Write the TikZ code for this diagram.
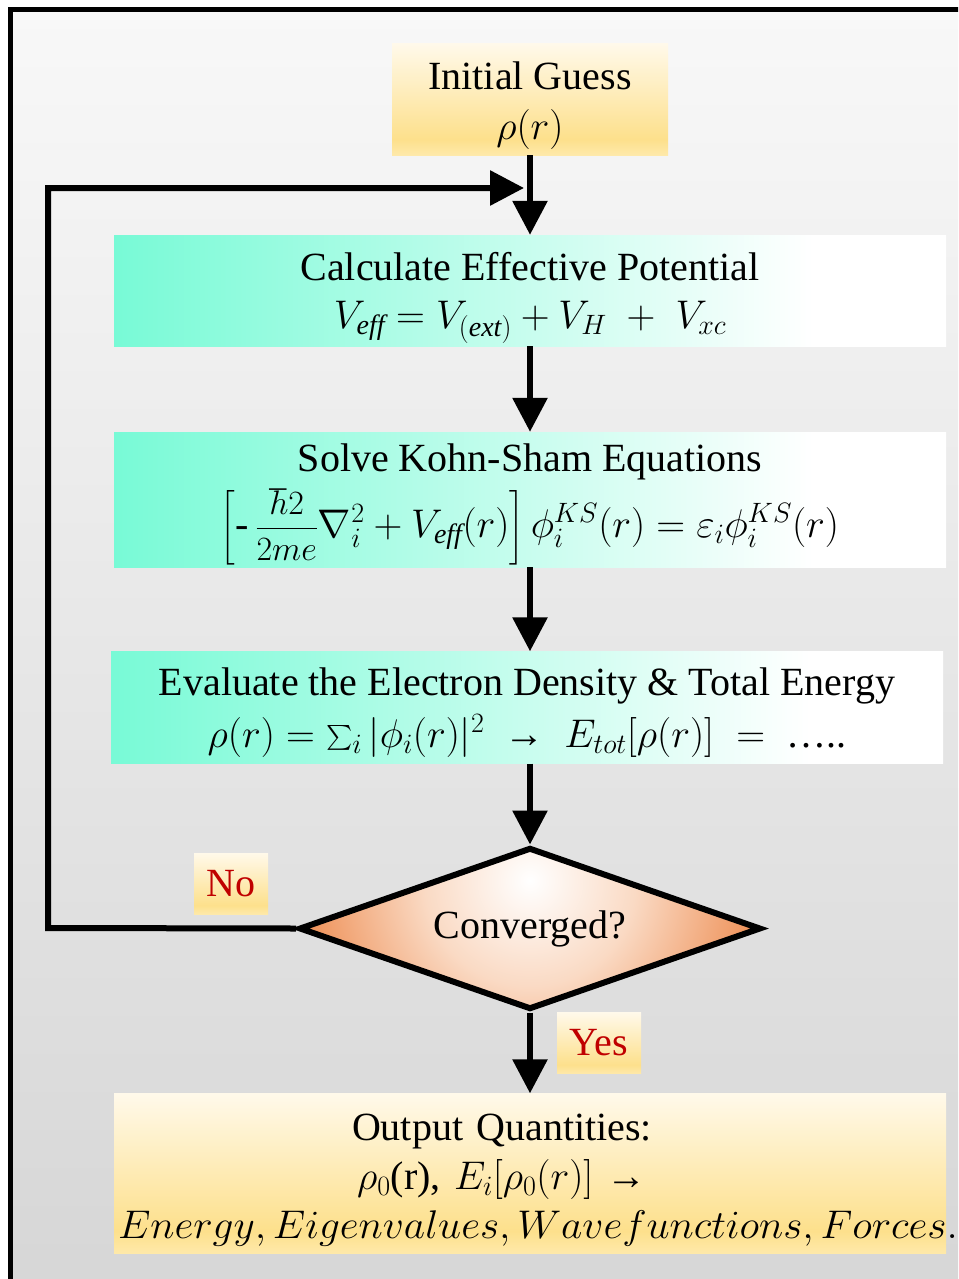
\RequirePackage{fix-cm}
\documentclass[tikz,border=0pt]{standalone}
\usepackage{amsmath}
\usepackage{graphicx}
\usepackage{fontspec}
\setmainfont{Liberation Serif}
\usetikzlibrary{shapes.geometric,arrows.meta}

\definecolor{aqualeft}{RGB}{120,250,214}
\definecolor{goldtop}{RGB}{255,249,234}
\definecolor{goldmid}{RGB}{253,224,140}
\definecolor{goldbot}{RGB}{254,233,170}
\definecolor{peach}{RGB}{250,218,196}
\definecolor{orangeedge}{RGB}{237,138,78}
\definecolor{nored}{RGB}{192,0,0}
\definecolor{bgtop}{RGB}{248,248,248}
\definecolor{bgbot}{RGB}{214,214,214}

% path box is mapped to 25bp..75bp of a shading
\pgfdeclarehorizontalshading{aquafill}{100bp}{color(0bp)=(aqualeft); color(25bp)=(aqualeft); color(67bp)=(white); color(100bp)=(white)}
\pgfdeclareverticalshading{goldfill}{100bp}{color(0bp)=(goldbot); color(25bp)=(goldbot); color(32bp)=(goldmid); color(75bp)=(goldtop); color(100bp)=(goldtop)}
\pgfdeclareradialshading{convfill}{\pgfpointorigin}{color(0bp)=(white); color(11bp)=(peach); color(25bp)=(orangeedge); color(50bp)=(orangeedge)}

\begin{document}
\begin{tikzpicture}
[x=1pt, y=1pt, node distance=208pt, font=\fontsize{40}{52}\selectfont]
\tikzstyle{flow}=[line width=6pt, -{Triangle[length=34pt, width=34pt]}]
\tikzstyle{aquabox}=[rectangle, shade, shading=aquafill, minimum width=832pt, minimum height=111pt, inner sep=0pt, align=center]
\tikzstyle{goldbox}=[rectangle, shade, shading=goldfill, inner sep=0pt, align=center]
\tikzstyle{tagbox}=[goldbox, text=nored, minimum height=61pt]
\tikzstyle{decision}=[diamond, aspect=2.85, draw, line width=6pt, minimum width=462pt, minimum height=162pt, inner sep=0pt,
  path picture={\shade[shading=convfill] ([yshift=48pt]path picture bounding box.center) circle (240pt);}]

\useasboundingbox (0,0) rectangle (958,-1279);
\clip (0,0) rectangle (958,-1279);
\fill[white] (0,0) rectangle (958,-1279);
\shadedraw[top color=bgtop, bottom color=bgbot, line width=5pt] (10.5,-10) rectangle (990,-1300);

% the struts on the first lines push the texts down
\node[goldbox, minimum width=276pt, minimum height=111pt] (init) at (530,-99.5) {\rule{0pt}{39pt}Initial Guess\\[-2pt]$\rho(r)$};
\node[aquabox] (calc) [below of=init, yshift=17pt] {\rule{0pt}{43pt}Calculate Effective Potential\\[-4pt]$V_{\mathit{eff}} = V_{(\mathit{ext})} + V_H \;+\; V_{xc}$};
\node[aquabox, minimum height=135pt] (solve) [below of=calc, yshift=-1pt] {\rule{0pt}{37pt}Solve Kohn-Sham Equations\\[8pt]$\Big[\text{-}\,\text{\fontsize{34}{40}\selectfont$\dfrac{\hbar 2}{2me}$}\nabla_i^2 + V_{\mathit{eff}}(r)\Big]\,\phi_i^{KS}(r) = \varepsilon_i\phi_i^{KS}(r)$};
\node[aquabox, minimum height=112pt, xshift=-3pt] (eval) [below of=solve] {\rule{0pt}{38pt}Evaluate the Electron Density \& Total Energy\\$\rho(r) = \sum_i|\phi_i(r)|^2$ ~→~ $E_{tot}[\rho(r)] \;=\;$ …..};
\node[decision] (conv) [below of=eval, xshift=3pt, yshift=-13pt] {Converged?};
\node[goldbox, inner xsep=4pt, text width=824pt, minimum height=160pt] (out) [below of=conv, yshift=-37pt] {\rule{0pt}{40pt}Output Quantities:\rule{56pt}{0pt}\\[-3pt]$\rho_0$(r), $E_i[\rho_0(r)]$ →\rule{56pt}{0pt}\\[-3pt]\scalebox{1.035}[1]{$Energy, Eigenvalues, Wavefunctions, Forces...$}};

\node[tagbox, minimum width=74pt] (nolbl) at (231,-883.5) {No};
\node[tagbox, minimum width=84pt] (yeslbl) at (599,-1043) {Yes};

\coordinate (loopcorner) at (48,-928);
\coordinate (loopin) at (524,-188);

\draw[flow] (init) -- (calc);
\draw[flow] (calc) -- (solve);
\draw[flow] (solve) -- (solve |- eval.north);
\draw[flow] (eval.south -| conv) -- (conv);
\draw[flow] (conv) -- (out);
\draw[flow] (conv.west) -- (loopcorner) |- (loopin);
\end{tikzpicture}
\end{document}
